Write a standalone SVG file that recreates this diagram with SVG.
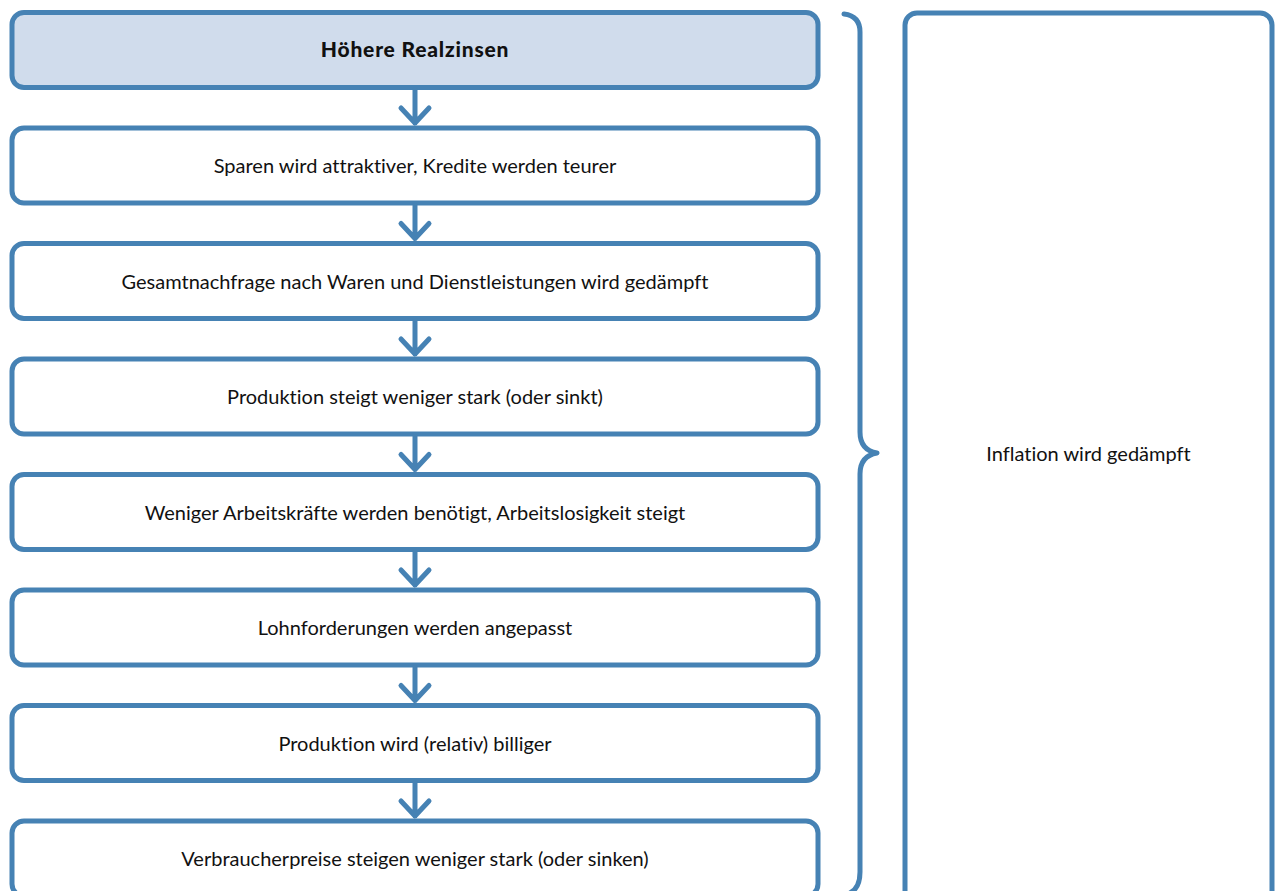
<svg xmlns="http://www.w3.org/2000/svg" width="1276" height="891" viewBox="0 0 1276 891">
<style>
.box{fill:#ffffff;stroke:#4682b4;stroke-width:5}
.hd{fill:#d0dcec}
.t{font-family:Lato,"Open Sans","Liberation Sans",sans-serif;font-size:20px;fill:#111;text-anchor:middle;font-variant-ligatures:none}
.b{font-weight:900;font-size:21px;letter-spacing:0.8px}
.c{fill:none;stroke:#4682b4;stroke-width:5;stroke-linecap:round;stroke-linejoin:round}
</style>
<g id="n1"><rect class="box hd" x="12" y="12.5" width="806" height="75" rx="12"/><text class="t b" x="415" y="57">Höhere Realzinsen</text></g>
<g id="n2"><rect class="box" x="12" y="128" width="806" height="75" rx="12"/><text class="t" x="415" y="173">Sparen wird attraktiver, Kredite werden teurer</text></g>
<g id="n3"><rect class="box" x="12" y="243.5" width="806" height="75" rx="12"/><text class="t" x="415" y="288.5">Gesamtnachfrage nach Waren und Dienstleistungen wird gedämpft</text></g>
<g id="n4"><rect class="box" x="12" y="359" width="806" height="75" rx="12"/><text class="t" x="415" y="404">Produktion steigt weniger stark (oder sinkt)</text></g>
<g id="n5"><rect class="box" x="12" y="474.5" width="806" height="75" rx="12"/><text class="t" x="415" y="519.5">Weniger Arbeitskräfte werden benötigt, Arbeitslosigkeit steigt</text></g>
<g id="n6"><rect class="box" x="12" y="590" width="806" height="75" rx="12"/><text class="t" x="415" y="635">Lohnforderungen werden angepasst</text></g>
<g id="n7"><rect class="box" x="12" y="705.5" width="806" height="75" rx="12"/><text class="t" x="415" y="750.5">Produktion wird (relativ) billiger</text></g>
<g id="n8"><rect class="box" x="12" y="821" width="806" height="75" rx="12"/><text class="t" x="415" y="866">Verbraucherpreise steigen weniger stark (oder sinken)</text></g>
<g id="n9"><rect class="box" x="905" y="13" width="367" height="890" rx="12"/><text class="t" x="1088.5" y="461">Inflation wird gedämpft</text></g>
<g id="connectors">
<path class="c" d="M415 90V123M401 108L415 123L429 108"/>
<path class="c" d="M415 205.5V238.5M401 223.5L415 238.5L429 223.5"/>
<path class="c" d="M415 321V354M401 339L415 354L429 339"/>
<path class="c" d="M415 436.5V469.5M401 454.5L415 469.5L429 454.5"/>
<path class="c" d="M415 552V585M401 570L415 585L429 570"/>
<path class="c" d="M415 667.5V700.5M401 685.5L415 700.5L429 685.5"/>
<path class="c" d="M415 783V816M401 801L415 816L429 801"/>
<path class="c" d="M844 14Q860 16 860 32V432Q860 450 877 453Q860 456 860 474V872Q860 888 850 893"/>
</g>
</svg>
